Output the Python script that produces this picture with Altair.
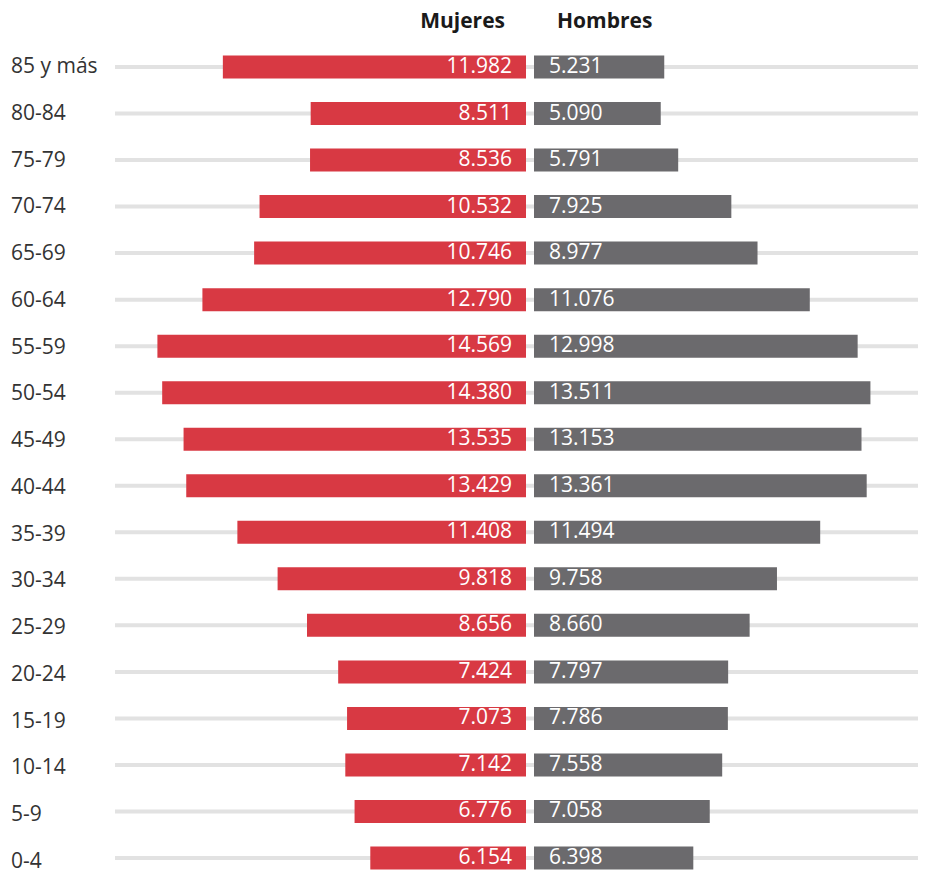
import altair as alt
import pandas as pd

categories = ["85 y más", "80-84", "75-79", "70-74", "65-69", "60-64", "55-59", "50-54",
              "45-49", "40-44", "35-39", "30-34", "25-29", "20-24", "15-19", "10-14", "5-9", "0-4"]
mujeres = [11982, 8511, 8536, 10532, 10746, 12790, 14569, 14380, 13535, 13429,
           11408, 9818, 8656, 7424, 7073, 7142, 6776, 6154]
hombres = [5231, 5090, 5791, 7925, 8977, 11076, 12998, 13511, 13153, 13361,
           11494, 9758, 8660, 7797, 7786, 7558, 7058, 6398]
headers = ["Mujeres", "Hombres"]


def fmt(v):
    return f"{v:,}".replace(",", ".")


df = pd.DataFrame({
    "cat": categories,
    "m": mujeres,
    "h": hombres,
    "ml": [fmt(v) for v in mujeres],
    "hl": [fmt(v) for v in hombres],
})

FONT = "Open Sans"
RED = "#d83943"
GRAY = "#6b6a6d"
FS = 21

yscale = alt.Scale(type="point", domain=categories, range=[59, 850], padding=0)
Y = alt.Y("cat:N", scale=yscale, axis=None, sort=categories)
Ylab = alt.Y("cat:N", scale=alt.Scale(type="point", domain=categories, range=[59, 854], padding=0),
             axis=None, sort=categories)

base = alt.Chart(df)

rules = base.mark_rule(color="#e2e2e2", strokeWidth=4).encode(
    y=Y, x=alt.value(107), x2=alt.value(911)
)

bars_m = base.mark_bar(color=RED, size=23).encode(
    y=Y,
    x=alt.X("m:Q", scale=alt.Scale(domain=[0, 15000], range=[518, 518 - 15 * 25.3]), axis=None),
)

bars_h = base.mark_bar(color=GRAY, size=23).encode(
    y=Y,
    x=alt.X("h:Q", scale=alt.Scale(domain=[0, 15000], range=[526, 526 + 15 * 24.9]), axis=None),
)

txt_m = base.mark_text(align="right", baseline="middle", color="white", fontSize=FS, font=FONT).encode(
    y=Y, x=alt.value(504), text="ml:N"
)
txt_h = base.mark_text(align="left", baseline="middle", color="white", fontSize=FS, font=FONT).encode(
    y=Y, x=alt.value(541), text="hl:N"
)

cat_labels = base.mark_text(align="left", baseline="middle", color="#333333", fontSize=FS, font=FONT).encode(
    y=Ylab, x=alt.value(3), text="cat:N"
)

hdr_m = alt.Chart(pd.DataFrame({"t": [headers[0]]})).mark_text(
    align="right", baseline="middle", fontSize=FS, fontWeight="bold", font=FONT, color="#1a1a1a"
).encode(x=alt.value(497), y=alt.value(14), text="t:N")
hdr_h = alt.Chart(pd.DataFrame({"t": [headers[1]]})).mark_text(
    align="left", baseline="middle", fontSize=FS, fontWeight="bold", font=FONT, color="#1a1a1a"
).encode(x=alt.value(549), y=alt.value(14), text="t:N")

chart = alt.layer(
    rules, bars_m, bars_h, txt_m, txt_h, cat_labels, hdr_m, hdr_h
).resolve_scale(x="independent", y="independent").properties(
    width=910, height=865,
    autosize=alt.AutoSizeParams(type="none"),
    padding=0,
).configure_view(stroke=None)

chart.save("out.html", embed_options={"renderer": "svg", "actions": False})
